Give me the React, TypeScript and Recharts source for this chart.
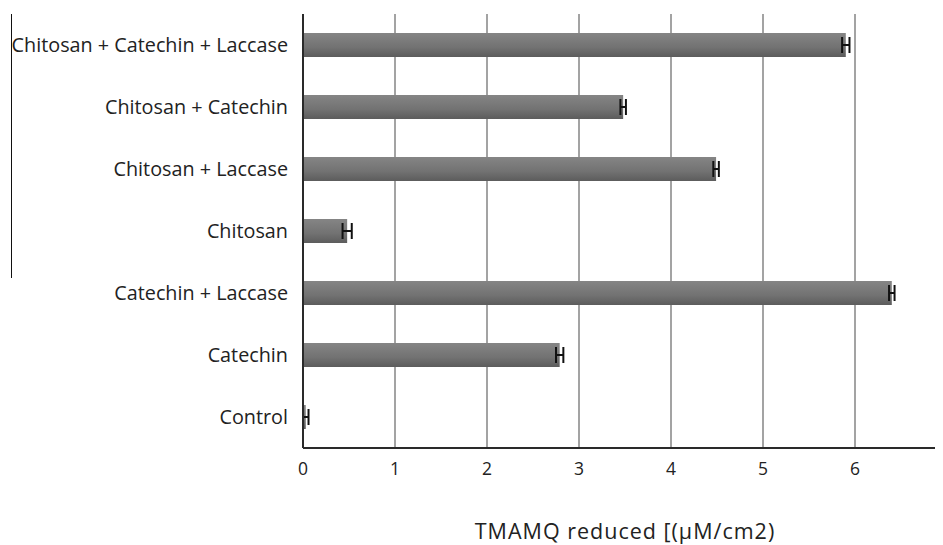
import { BarChart, Bar, XAxis, YAxis, CartesianGrid, ErrorBar, Label } from 'recharts';

const categories = [
  'Chitosan + Catechin + Laccase',
  'Chitosan + Catechin',
  'Chitosan + Laccase',
  'Chitosan',
  'Catechin + Laccase',
  'Catechin',
  'Control',
];
const reduced = [5.9, 3.48, 4.49, 0.48, 6.4, 2.79, 0.03];
const errors = [0.04, 0.03, 0.03, 0.05, 0.03, 0.04, 0.03];
const xTicks = [0, 1, 2, 3, 4, 5, 6, 7];

const data = categories.map((name, i) => ({ name, value: reduced[i], err: errors[i] }));

const font = '"Open Sans", "DejaVu Sans", sans-serif';

export default function App() {
  return (
    <div style={{ position: 'relative', width: 935, height: 537, overflow: 'hidden', fontFamily: font }}>
      {/* stray rule on the left edge of the original figure */}
      <div style={{ position: 'absolute', left: 3, top: 6, width: 1, height: 264, background: '#111' }} />
      <BarChart
        width={948}
        height={537}
        data={data}
        layout="vertical"
        margin={{ top: 6, right: 9, bottom: 0, left: 0 }}
        barSize={24}
      >
        <defs>
          <linearGradient id="barFill" x1="0" y1="0" x2="0" y2="1">
            <stop offset="0%" stopColor="#858585" />
            <stop offset="60%" stopColor="#727272" />
            <stop offset="100%" stopColor="#5c5c5c" />
          </linearGradient>
        </defs>
        <CartesianGrid horizontal={false} stroke="#a3a3a3" strokeWidth={2} />
        <XAxis
          type="number"
          domain={[0, 7]}
          ticks={xTicks}
          height={97}
          tickLine={false}
          tickMargin={9}
          axisLine={{ stroke: '#2a2a2a', strokeWidth: 2 }}
          tick={{ fontSize: 17.5, fill: '#222', fontFamily: font }}
        >
          <Label
            value="TMAMQ reduced [(µM/cm2)"
            position="insideBottom"
            offset={6}
            style={{ fontSize: 21.5, fill: '#222', letterSpacing: 1, fontFamily: font }}
          />
        </XAxis>
        <YAxis
          type="category"
          dataKey="name"
          width={295}
          tickLine={false}
          tickMargin={9}
          axisLine={{ stroke: '#2a2a2a', strokeWidth: 2 }}
          tick={{ fontSize: 19.8, fill: '#222', fontFamily: font }}
        />
        <Bar dataKey="value" fill="url(#barFill)" isAnimationActive={false}>
          <ErrorBar dataKey="err" direction="x" width={8} stroke="#111" strokeWidth={2} isAnimationActive={false} />
        </Bar>
      </BarChart>
    </div>
  );
}
